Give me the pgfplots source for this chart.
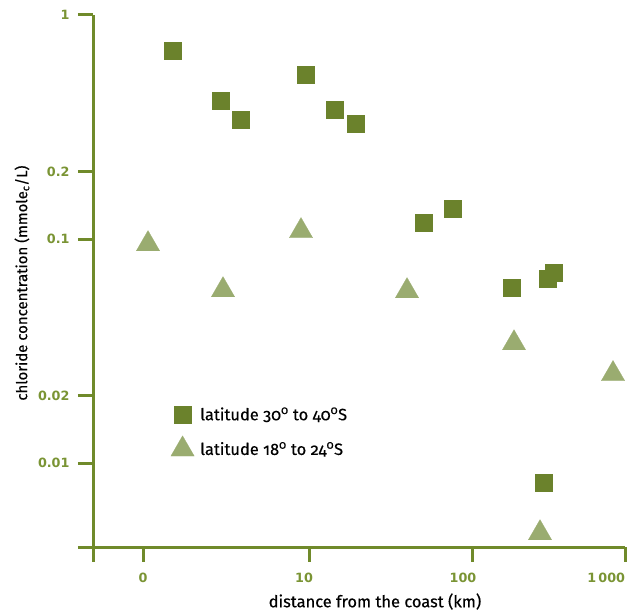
\documentclass[border=0pt]{standalone}
\usepackage{fontspec}
\setmainfont{Fira Sans}[Numbers=OldStyle]
\newfontfamily\labfont{Fira Sans}[Numbers=OldStyle, FakeBold=0.4]
\newfontfamily\tickfont{DejaVu Sans}
\usepackage{pgfplots}
\pgfplotsset{compat=1.18}
\definecolor{axgreen}{RGB}{112,138,42}
\definecolor{tickgreen}{RGB}{122,148,52}
\definecolor{sqcol}{RGB}{107,130,44}
\definecolor{tricol}{RGB}{154,172,112}
\begin{document}
\begin{tikzpicture}[x=1bp,y=1bp]
\path[use as bounding box] (0,0) rectangle (628,612);
\begin{axis}[
  at={(93bp,65bp)}, anchor=south west,
  scale only axis, width=532bp, height=532bp,
  xmin=93, xmax=625,
  ymode=log, ymin=0.00422, ymax=1,
  axis x line*=bottom, axis y line*=left,
  axis line style={axgreen, line width=3bp, -},
  tick align=outside,
  major tick length=15bp,
  every tick/.style={axgreen, line width=3bp},
  xtick={93,143,309,472,625},
  xticklabels={,0,{\hspace*{-10bp}10},{\hspace*{-18bp}100},{\makebox[0pt][r]{1\,000}}},
  ytick={0.00422,0.01,0.02,0.1,0.2,1},
  yticklabels={,0.01,0.02,0.1,0.2,1},
  minor tick num=0,
  tick label style={font=\tickfont\bfseries\fontsize{12.8}{14}\selectfont, text=tickgreen},
  xticklabel style={yshift=-8bp},
  yticklabel style={xshift=-5bp},
  clip=false,
  xlabel={\labfont distance from the coast (km)},
  ylabel={\labfont chloride concentration (mmole\textsubscript{c}/L)},
  xlabel style={font=\fontsize{16.5}{18}\selectfont, text=black, at={(axis description cs:0.530,-0.1025)}, anchor=center},
  ylabel style={font=\fontsize{15}{17}\selectfont, text=black, at={(axis description cs:-0.1335,0.496)}, anchor=center},
  legend style={at={(axis description cs:0.146,0.2665)}, anchor=north west, draw=none, fill=none,
    font=\labfont\fontsize{16.5}{18}\selectfont, row sep=12bp, inner sep=0pt},
  legend cell align=left,
  legend image code/.code={\draw[#1] plot coordinates {(0.3cm,0cm)};},
]
\addplot[only marks, mark=square*, mark size=8.5bp, mark options={fill=sqcol, draw=sqcol, line width=0.2pt}]
coordinates {
(173,0.691) (221,0.413) (241,0.340) (306,0.540) (335,0.377) (356,0.326)
(424,0.118) (453,0.137) (512,0.0604) (548,0.0663) (554,0.0705) (544,0.00822)
};
\addlegendentry{\hspace*{4bp}latitude 30\textsuperscript{0} to 40\textsuperscript{0}S}
\addplot[only marks, mark=triangle*, mark size=13.5bp, mark options={fill=tricol, draw=tricol, line width=0.2pt}]
coordinates {
(148,0.095) (223,0.0592) (301,0.1086) (407,0.0586) (514,0.0343) (613,0.0250) (540,0.00487)
};
\addlegendentry{\hspace*{4bp}latitude 18\textsuperscript{0} to 24\textsuperscript{0}S}
\end{axis}
\end{tikzpicture}
\end{document}
